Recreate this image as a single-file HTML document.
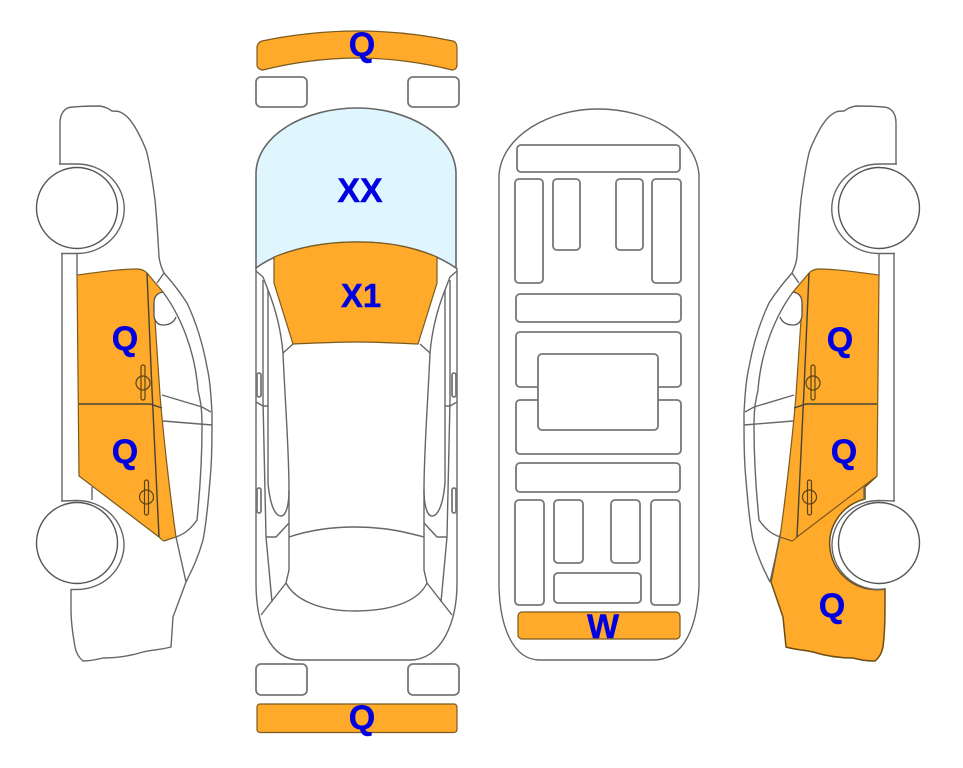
<!DOCTYPE html>
<html>
<head>
<meta charset="utf-8">
<style>
html,body{margin:0;padding:0;background:#fff;}
svg{display:block;}
text{font-family:"Liberation Sans",sans-serif;font-weight:bold;font-size:34px;fill:#0000e0;stroke:#0000e0;stroke-width:.4;text-anchor:middle;}
.l{fill:none;stroke:#666;stroke-width:1.4;}
.g{fill:#fff;stroke:#777;stroke-width:1.8;}
.o{fill:#ffaa2b;stroke:#7a5a1e;stroke-width:1.2;}
</style>
</head>
<body>
<svg width="963" height="768" viewBox="0 0 963 768" xmlns="http://www.w3.org/2000/svg">
<defs>
<path id="outline" d="M60 164L60 123C60 113 65 107 73 107C84 106 92 106 100 106C106 107 109 109 112 111C116 111 118 111 120 112C127 115 131 121 135 127C140 136 145 146 147 153C151 170 153 185 155 200C157 220 158 240 159 257C160 264 162 269 164 273C172 282 180 292 187 303C196 322 203 345 207 367C210 380 211 395 212 413C212 440 212 460 210 480C208 505 206 525 203 540C198 558 192 570 186 582L173 617L171 647C160 650 150 650 143 652C130 656 115 658 103 658C95 660 90 661 83 661C78 657 76 652 75 647C72 630 71 620 71 610L71 585L61 585L61 501L61 253L60 164Z" fill="#fff" stroke="none"/>
<path id="strokeTop" class="l" d="M60 164L60 123C60 113 65 107 73 107C84 106 92 106 100 106C106 107 109 109 112 111C116 111 118 111 120 112C127 115 131 121 135 127C140 136 145 146 147 153C151 170 153 185 155 200C157 220 158 240 159 257C160 264 162 269 164 273C172 282 180 292 187 303C196 322 203 345 207 367C210 380 211 395 212 413C212 440 212 460 210 480C208 505 206 525 203 540C198 558 192 570 186 582"/>
<path id="strokeBottom" class="l" d="M186 582L173 617L171 647C160 650 150 650 143 652C130 656 115 658 103 658C95 660 90 661 83 661C78 657 76 652 75 647C72 630 71 620 71 610L71 589"/>
<path id="door" class="o" d="M77 275C100 272 120 269 137 269C142 269 145 271 147 273L163 292L155 297C153 305 154 312 155 320L160 395C162 420 168 480 176 537L164 541C163 541 162 540 159 537L79 476Z"/>
<g id="carLines">
  <path class="g" style="fill:#fff;stroke:#555;stroke-width:1.3" d="M163 292C157 293 154 297 154 303L154 316C155 322 158 325 163 325C170 325 174 322 176 317"/>
  <path class="l" d="M164 273L157 283"/>
  <path class="l" d="M163 292C180 315 195 350 198 390C200 400 202 405 202 427C202 460 200 490 197 520C190 530 184 534 176 537L186 582"/>
  <path class="l" d="M162 395L202 407L211 412M163 421L212 425"/>
  <path class="l" d="M92 487L92 500"/>
  <path class="l" stroke-width="1.8" d="M62 253L62 501M77 253L77 275"/>
  <path class="l" style="stroke:#443" d="M147 273L152 390L159 537M79 404L150 404L162 408"/>
  <rect x="141" y="365" width="4" height="35" rx="2" fill="none" stroke="#5a4318" stroke-width="1.2"/>
  <ellipse cx="143" cy="383" rx="7" ry="7" fill="none" stroke="#5a4318" stroke-width="1.2"/>
  <rect x="144.500" y="480" width="4" height="35" rx="2" fill="none" stroke="#5a4318" stroke-width="1.2"/>
  <ellipse cx="146.500" cy="497" rx="7" ry="7" fill="none" stroke="#5a4318" stroke-width="1.2"/>
</g>
<g id="wheels">
  <path class="l" d="M59 164L77 164A47 44.500 0 0 1 77 253.500L61 253.500" fill="#fff"/>
  <path class="l" d="M61 501L77 500.500A47 44.500 0 0 1 77 589.500L71 589.500" fill="#fff"/>
  <circle cx="77" cy="208" r="40.500" fill="#fff" stroke="#555" stroke-width="1.4"/>
  <circle cx="77" cy="543" r="40.500" fill="#fff" stroke="#555" stroke-width="1.4"/>
</g>
<g id="sideT">
  <path class="l" d="M256 271L263 277L268 290C276 310 281 330 283 353L293 344"/>
  <path class="l" stroke-width="1.7" d="M263 280L263 400L266 537L272 602"/>
  <path class="l" stroke-width="1.7" d="M268 290L268 483C270 505 275 516 281 516C286 516 289 505 289 490"/>
  <path class="l" d="M283 353C285 400 289 450 289 490L289 570L286 583L261 615"/>
  <path class="l" d="M256 402L263 406L268 406"/>
  <path class="l" d="M266 537L276 537L289 523"/>
  <rect class="g" x="257" y="373" width="4" height="24" rx="2"/>
  <rect class="g" x="257" y="488" width="4" height="25" rx="2"/>
</g>
</defs>

<!-- left car -->
<use href="#outline"/>
<use href="#door"/>
<use href="#strokeTop"/>
<use href="#strokeBottom"/>
<use href="#carLines"/>
<use href="#wheels"/>

<!-- right car -->
<g transform="matrix(-1 0 0 1 956 0)">
  <use href="#outline"/>
  <use href="#strokeTop"/>
  <path class="o" style="stroke:#6e4e12;stroke-width:1.5" d="M176 535L185 582L173 617L170 647C160 650 150 650 143 652C130 656 115 658 103 658C95 660 90 661 81 661C76 657 74 652 73 647C71 630 71 620 71 589L77 589.500A47 46 0 0 0 91 499L91 487L79 476Z"/>
  <use href="#door"/>
  <use href="#carLines"/>
  <use href="#wheels"/>
</g>

<!-- top view -->
<path class="o" d="M257 48C257 44 259 42 262 41C290 35 325 31 357 31C390 31 425 35 453 41C456 42 457 44 457 48L457 65C457 68 455 70 452 70C425 63 390 58 357 58C325 58 290 63 263 70C260 70 257 68 257 65Z"/>
<rect class="g" x="256" y="77" width="51" height="30" rx="5"/>
<rect class="g" x="408" y="77" width="51" height="30" rx="5"/>
<path fill="#dff6ff" stroke="#666" stroke-width="1.6" d="M256 268L256 173C257 135 305 108 357 108C408 108 455 135 456 173L456 268C430 250 395 242 357 242C320 242 280 250 256 268Z"/>
<path class="o" d="M274 257C300 247 325 242 357 242C390 242 412 247 437 257L437 283L418 344C395 343 375 342 357 342C335 342 315 343 293 344L274 283Z"/>
<path class="l" stroke-width="1.8" d="M256 268L256 583C256 625 270 660 300 660L410 660C440 660 457 625 457 583L457 268"/>
<use href="#sideT"/>
<use href="#sideT" transform="matrix(-1 0 0 1 713 0)"/>
<path class="l" d="M289 537C310 530 330 527 355 527C385 527 405 532 424 537"/>
<path class="l" d="M286 583C295 600 320 611 355 611C390 611 418 602 427 583"/>
<rect class="g" x="256" y="664" width="51" height="31" rx="5"/>
<rect class="g" x="408" y="664" width="51" height="31" rx="5"/>
<rect class="o" x="257" y="704" width="200" height="28.500" rx="3"/>

<!-- underside -->
<path class="l" stroke-width="1.7" d="M499 587L499 175C502 135 550 109 598 109C648 109 696 135 699 175L699 587C697 625 685 660 653 660L540 660C512 660 500 625 499 587Z"/>
<g class="g">
  <rect x="517" y="145" width="163" height="27" rx="4"/>
  <rect x="515" y="179" width="28" height="104" rx="4"/>
  <rect x="553" y="179" width="27" height="71" rx="4"/>
  <rect x="616" y="179" width="27" height="71" rx="4"/>
  <rect x="652" y="179" width="29" height="104" rx="4"/>
  <rect x="516" y="294" width="165" height="28" rx="4"/>
  <rect x="516" y="332" width="165" height="55" rx="4"/>
  <rect x="516" y="400" width="165" height="54" rx="4"/>
  <rect x="538" y="354" width="120" height="76" rx="4"/>
  <rect x="516" y="463" width="164" height="29" rx="4"/>
  <rect x="515" y="500" width="29" height="105" rx="4"/>
  <rect x="554" y="500" width="29" height="63" rx="4"/>
  <rect x="611" y="500" width="29" height="63" rx="4"/>
  <rect x="651" y="500" width="29" height="105" rx="4"/>
  <rect x="554" y="573" width="87" height="30" rx="4"/>
</g>
<rect class="o" x="518" y="612" width="162" height="27" rx="4"/>

<!-- labels -->
<text x="362" y="56">Q</text>
<text x="360" y="202">XX</text>
<text x="361" y="307" style="font-size:33px">X1</text>
<text x="125" y="350">Q</text>
<text x="125" y="463">Q</text>
<text x="840" y="351">Q</text>
<text x="844" y="463">Q</text>
<text x="832" y="617">Q</text>
<text x="603" y="638">W</text>
<text x="362" y="729">Q</text>
</svg>
</body>
</html>
